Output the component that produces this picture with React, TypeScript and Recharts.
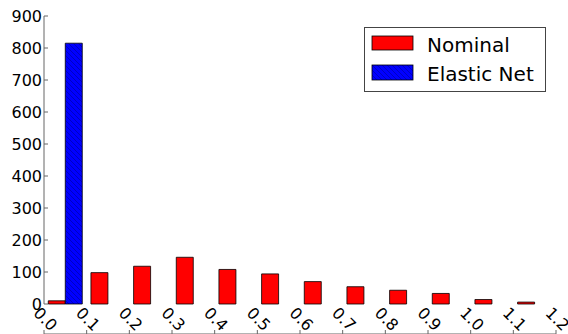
import React from 'react';
import { BarChart, Bar, XAxis, YAxis, Legend } from 'recharts';

// histogram bins (width 0.1) and counts
const binStarts = [0.0, 0.1, 0.2, 0.3, 0.4, 0.5, 0.6, 0.7, 0.8, 0.9, 1.0, 1.1];
const nominal = [10, 98, 118, 146, 108, 94, 70, 54, 43, 33, 14, 6];
const elasticNet = [815, 0, 0, 0, 0, 0, 0, 0, 0, 0, 0, 0];

const xTicks = [0, 0.1, 0.2, 0.3, 0.4, 0.5, 0.6, 0.7, 0.8, 0.9, 1.0, 1.1, 1.2];
const xTickLabels = ['0.0', '0.1', '0.2', '0.3', '0.4', '0.5', '0.6', '0.7', '0.8', '0.9', '1.0', '1.1', '1.2'];
const yTicks = [0, 100, 200, 300, 400, 500, 600, 700, 800, 900];

const seriesNames = ['Nominal', 'Elastic Net'];

const data = binStarts.map((x0, i) => ({
  x0,
  bin: xTickLabels[i],
  nominal: nominal[i],
  elastic: elasticNet[i],
}));

const FONT = '"DejaVu Sans", sans-serif';
const SPINE = '#666';

const XTick = (props: any) => {
  const { x, payload } = props;
  const i = xTicks.indexOf(payload.value);
  const cx = x + 1.5;
  const cy = 319;
  return (
    <text x={cx} y={cy} dy="0.36em" textAnchor="middle" transform={`rotate(45 ${cx} ${cy})`}
      fontFamily={FONT} fontSize={16} fill="#000">
      {i >= 0 ? xTickLabels[i] : payload.value.toFixed(1)}
    </text>
  );
};

const YTick = (props: any) => {
  const { y, payload } = props;
  return (
    <text x={42} y={y + 5.6} textAnchor="end" fontFamily={FONT} fontSize={16} fill="#000">
      {payload.value}
    </text>
  );
};

const NoTick = () => <g />;

const LegendBox = () => (
  <svg width={182} height={65} style={{ display: 'block' }}>
    <defs>
      <pattern id="hatchLegend" patternUnits="userSpaceOnUse" width={5} height={5}>
        <rect width={5} height={5} fill="#0000ff" />
        <path d="M-1,-1 L6,6 M-1,4 L1,6 M4,-1 L6,1" stroke="#0000a8" strokeWidth={0.7} />
      </pattern>
    </defs>
    <rect x={0.5} y={0.5} width={181} height={64} fill="#fff" stroke="#444" />
    <rect x={8} y={9} width={41} height={14} fill="#ff0000" stroke="#000" strokeWidth={0.8} />
    <text x={63} y={24.5} fontFamily={FONT} fontSize={20} fill="#000">{seriesNames[0]}</text>
    <rect x={8} y={38} width={41} height={15} fill="url(#hatchLegend)" stroke="#000" strokeWidth={0.8} />
    <text x={63} y={53.5} fontFamily={FONT} fontSize={20} fill="#000">{seriesNames[1]}</text>
  </svg>
);

export default function App() {
  return (
    <div style={{ position: 'absolute', left: 0, top: 0, width: 568, height: 334, background: '#fff' }}>
      <BarChart width={568} height={334} data={data} barCategoryGap="10%" barGap={0}
        margin={{ top: 16, right: 12, left: 0, bottom: 0 }}>
        <defs>
          <pattern id="hatchBlue" patternUnits="userSpaceOnUse" width={5} height={5}>
            <rect width={5} height={5} fill="#0000ff" />
            <path d="M-1,-1 L6,6 M-1,4 L1,6 M4,-1 L6,1" stroke="#0000a8" strokeWidth={0.7} />
          </pattern>
        </defs>
        <XAxis xAxisId="cat" dataKey="bin" hide />
        <XAxis xAxisId="num" dataKey="x0" type="number" domain={[0, 1.2]} ticks={xTicks} allowDataOverflow
          height={30} tickSize={-4} tickMargin={0} tick={XTick} interval={0}
          axisLine={{ stroke: SPINE }} tickLine={{ stroke: SPINE }} />
        <XAxis xAxisId="top" orientation="top" dataKey="x0" type="number" domain={[0, 1.2]} ticks={xTicks}
          allowDataOverflow height={0} tickSize={-4} tick={NoTick} interval={0}
          axisLine={{ stroke: SPINE }} tickLine={{ stroke: SPINE }} />
        <YAxis yAxisId="left" domain={[0, 900]} ticks={yTicks} width={44} tickSize={-4} tickMargin={0}
          tick={YTick} interval={0} axisLine={{ stroke: SPINE }} tickLine={{ stroke: SPINE }} />
        <YAxis yAxisId="right" orientation="right" domain={[0, 900]} ticks={yTicks} width={0} tickSize={-4}
          tick={NoTick} interval={0} axisLine={{ stroke: SPINE }} tickLine={{ stroke: SPINE }} />
        <Legend layout="horizontal" verticalAlign="middle" align="center"
          wrapperStyle={{ left: 364, top: 27, width: 182, height: 65 }} content={LegendBox} />
        <Bar xAxisId="cat" yAxisId="left" dataKey="nominal" name={seriesNames[0]} fill="#ff0000"
          stroke="#000" strokeWidth={0.8} isAnimationActive={false} />
        <Bar xAxisId="cat" yAxisId="left" dataKey="elastic" name={seriesNames[1]} fill="url(#hatchBlue)"
          stroke="#000" strokeWidth={0.8} isAnimationActive={false} />
      </BarChart>
    </div>
  );
}
